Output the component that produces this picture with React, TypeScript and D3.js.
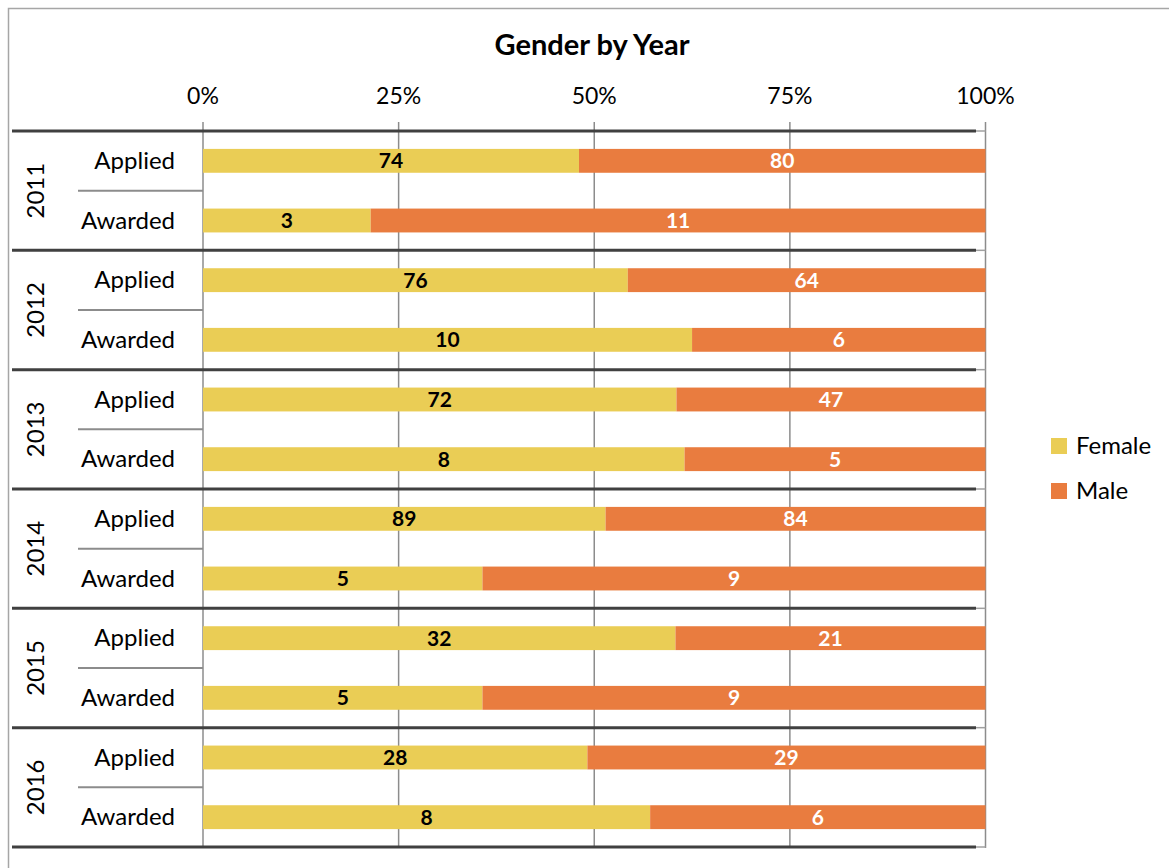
import React from "react";
import * as d3 from "d3";

// Applicant and award counts by gender, one entry per year
const years = ["2011", "2012", "2013", "2014", "2015", "2016"];
const stages = ["Applied", "Awarded"];
const femaleApplied = [74, 76, 72, 89, 32, 28];
const maleApplied = [80, 64, 47, 84, 21, 29];
const femaleAwarded = [3, 10, 8, 5, 5, 8];
const maleAwarded = [11, 6, 5, 9, 9, 6];
const tickValues = [0, 0.25, 0.5, 0.75, 1];
const seriesNames = ["Female", "Male"];

const FEMALE = "#EACD55";
const MALE = "#E97C3F";
const FONT = "Lato, 'Open Sans', sans-serif";

type Row = { year: string; stage: string; female: number; male: number };

const rows: Row[] = years.flatMap((year, i) => [
  { year, stage: "Applied", female: femaleApplied[i], male: maleApplied[i] },
  { year, stage: "Awarded", female: femaleAwarded[i], male: maleAwarded[i] },
]);

export default function App() {
  const W = 1169;
  const H = 868;

  const x = d3.scaleLinear().domain([0, 1]).range([203, 985.5]);
  const yGroup = d3.scaleBand<string>().domain(years).range([131, 847]);
  const yStage = d3
    .scaleBand<string>()
    .domain(stages)
    .range([0, yGroup.bandwidth()])
    .paddingInner(0.6)
    .paddingOuter(0.3);

  const pct = d3.format(".0%");
  const gridTop = 122;
  const gridBottom = 848;

  return (
    <svg
      width={W}
      height={H}
      style={{ position: "absolute", left: 0, top: 0, background: "#fff" }}
      fontFamily={FONT}
    >
      {/* chart frame */}
      <rect x={8.5} y={8.5} width={W + 20} height={H + 20} fill="#fff" stroke="#a6a6a6" strokeWidth={1.5} />

      <text x={592} y={55} textAnchor="middle" fontSize={29} fontWeight={700} fill="#000">
        Gender by Year
      </text>

      {/* percentage ticks and vertical gridlines */}
      {tickValues.map((t) => (
        <g key={t}>
          <line x1={x(t)} x2={x(t)} y1={gridTop} y2={gridBottom} stroke="#8c8c8c" strokeWidth={1.5} />
          <text x={x(t)} y={104} textAnchor="middle" fontSize={23} fill="#000">
            {pct(t)}
          </text>
        </g>
      ))}

      {/* stacked 100% bars */}
      {rows.map((r) => {
        const total = r.female + r.male;
        const split = r.female / total;
        const y0 = (yGroup(r.year) as number) + (yStage(r.stage) as number);
        const h = yStage.bandwidth();
        const cy = y0 + h / 2;
        return (
          <g key={r.year + r.stage}>
            <rect x={x(0)} y={y0} width={x(split) - x(0)} height={h} fill={FEMALE} />
            <rect x={x(split)} y={y0} width={x(1) - x(split)} height={h} fill={MALE} />
            <text
              x={(x(0) + x(split)) / 2}
              y={cy + 7.5}
              textAnchor="middle"
              fontSize={21}
              fontWeight={700}
              fill="#000"
            >
              {r.female}
            </text>
            <text
              x={(x(split) + x(1)) / 2}
              y={cy + 7.5}
              textAnchor="middle"
              fontSize={21}
              fontWeight={700}
              fill="#fff"
            >
              {r.male}
            </text>
          </g>
        );
      })}

      {/* multi-level category axis */}
      {years.map((year) => {
        const gy = yGroup(year) as number;
        const mid = gy + yGroup.bandwidth() / 2;
        return (
          <g key={year}>
            <line x1={78} x2={203} y1={mid} y2={mid} stroke="#8c8c8c" strokeWidth={2} />
            {stages.map((s) => (
              <text
                key={s}
                x={175}
                y={gy + (yStage(s) as number) + yStage.bandwidth() / 2 + 8}
                textAnchor="end"
                fontSize={24}
                fill="#000"
              >
                {s}
              </text>
            ))}
            <text
              transform={`translate(${44},${mid}) rotate(-90)`}
              textAnchor="middle"
              fontSize={24}
              fill="#000"
            >
              {year}
            </text>
          </g>
        );
      })}
      {[...years.map((y) => yGroup(y) as number), yGroup.range()[1]].map((yy, i) => (
        <g key={i}>
          <line x1={975} x2={985.5} y1={yy} y2={yy} stroke="#a0a0a0" strokeWidth={1.5} />
          <line x1={12} x2={976} y1={yy} y2={yy} stroke="#404040" strokeWidth={3} />
        </g>
      ))}

      {/* legend */}
      {seriesNames.map((name, i) => (
        <g key={name} transform={`translate(1051,${438 + i * 45})`}>
          <rect width={16} height={16} fill={i === 0 ? FEMALE : MALE} />
          <text x={25} y={16} fontSize={24} fill="#000">
            {name}
          </text>
        </g>
      ))}
    </svg>
  );
}
